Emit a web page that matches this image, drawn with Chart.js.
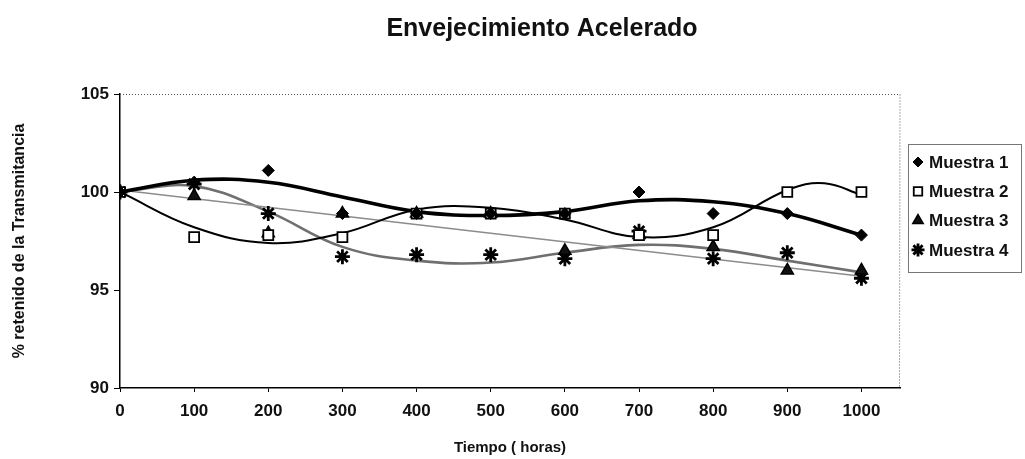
<!DOCTYPE html>
<html><head><meta charset="utf-8">
<script src="https://cdn.jsdelivr.net/npm/chart.js@4"></script>
<style>html,body{margin:0;padding:0;background:#fff}#wrap{position:relative;width:1025px;height:459px}</style>
</head><body><div id="wrap"><canvas id="c" width="1025" height="459"></canvas></div>
<script>
// ---- data ----
const chartTitle = 'Envejecimiento Acelerado';
const xTitle = 'Tiempo ( horas)';
const yTitle = '% retenido de la Transmitancia';
const seriesNames = ['Muestra 1', 'Muestra 2', 'Muestra 3', 'Muestra 4'];
const hours = [0, 100, 200, 300, 400, 500, 600, 700, 800, 900, 1000];
const muestra1 = [100, 100.5, 101.1, 98.9, 98.9, 98.9, 98.9, 100.0, 98.9, 98.9, 97.8];
const muestra2 = [100, 97.7, 97.8, 97.7, 98.9, 98.9, 98.9, 97.8, 97.8, 100.0, 100.0];
const muestra3 = [100, 99.8, 97.9, 98.9, 98.9, 98.9, 97.0, 97.8, 97.2, 96.0, 96.0];
const muestra4 = [100, 100.4, 98.9, 96.7, 96.8, 96.8, 96.6, 98.0, 96.6, 96.9, 95.6];
// trend lines
const trend1Hours = [0, 100, 200, 300, 400, 500, 600, 700, 800, 900, 1000];
const trend1 = [100, 100.6, 100.5, 99.75, 99.0, 98.8, 99.0, 99.55, 99.5, 98.9, 97.8];
const trend2Hours = [0, 100, 200, 300, 400, 500, 600, 700, 800, 900, 950, 1000];
const trend2 = [100, 98.2, 97.4, 97.9, 99.1, 99.2, 98.6, 97.7, 98.2, 100.1, 100.45, 99.85];
const trend3Hours = [0, 1000];
const trend3 = [100.1, 95.7];
const trend4Hours = [0, 100, 200, 300, 400, 500, 600, 700, 800, 900, 1000];
const trend4 = [100, 100.3, 99.0, 97.2, 96.5, 96.4, 96.9, 97.3, 97.1, 96.5, 95.9];
const yTickValues = [90, 95, 100, 105];
const xTickValues = [0, 100, 200, 300, 400, 500, 600, 700, 800, 900, 1000];

const pts = (xs, ys) => xs.map((x, i) => ({x, y: ys[i]}));
const FONT = '"Liberation Sans", Arial, sans-serif';

const markerStyles = [
  {pointStyle: 'rectRot', radius: 6, bg: '#000', border: '#000', bw: 1},
  {pointStyle: 'rect', radius: 7, bg: '#fff', border: '#000', bw: 1.8},
  {pointStyle: 'triangle', radius: 7, bg: '#111', border: '#000', bw: 1.5},
  {pointStyle: 'star', radius: 7.5, bg: '#000', border: '#000', bw: 2.8}
];
const seriesData = [muestra1, muestra2, muestra3, muestra4];

const trendSets = [
  {data: pts(trend1Hours, trend1), color: '#000', width: 3.6},
  {data: pts(trend2Hours, trend2), color: '#000', width: 2},
  {data: pts(trend3Hours, trend3), color: '#8c8c8c', width: 1.5},
  {data: pts(trend4Hours, trend4), color: '#6f6f6f', width: 2.6}
].map((t, i) => ({
  label: seriesNames[i] + ' trend', data: t.data, showLine: true, borderColor: t.color,
  borderWidth: t.width, pointRadius: 0, tension: 0.4, fill: false, order: 2
}));

const markerSets = seriesData.map((d, i) => ({
  label: seriesNames[i], data: pts(hours, d), showLine: false,
  pointStyle: markerStyles[i].pointStyle, pointRadius: markerStyles[i].radius,
  pointBackgroundColor: markerStyles[i].bg, pointBorderColor: markerStyles[i].border,
  pointBorderWidth: markerStyles[i].bw, order: 1
}));

const decor = {
  id: 'decor',
  afterDatasetsDraw(chart) {
    const {ctx, chartArea: a} = chart;
    ctx.save();
    ctx.strokeStyle = '#555'; ctx.lineWidth = 1; ctx.setLineDash([1, 2]);
    ctx.beginPath(); ctx.moveTo(a.left, a.top + 0.5); ctx.lineTo(a.right, a.top + 0.5);
    ctx.lineTo(a.right - 0.5, a.bottom); ctx.stroke();
    ctx.restore();
  },
  afterDraw(chart) {
    const ctx = chart.ctx;
    ctx.save();
    // title
    ctx.fillStyle = '#111'; ctx.font = 'bold 25px ' + FONT;
    ctx.textAlign = 'center'; ctx.textBaseline = 'middle';
    ctx.fillText(chartTitle, 542, 29);
    // legend
    const bx = 908, by = 144, bw = 113, bh = 128;
    ctx.strokeStyle = '#777'; ctx.lineWidth = 1;
    ctx.strokeRect(bx + 0.5, by + 0.5, bw, bh);
    ctx.font = 'bold 17px ' + FONT; ctx.textAlign = 'left';
    seriesNames.forEach((n, i) => {
      const y = 162 + i * 29.3;
      const m = markerStyles[i];
      ctx.fillStyle = m.bg; ctx.strokeStyle = m.border; ctx.lineWidth = m.bw;
      Chart.helpers.drawPoint(ctx, {pointStyle: m.pointStyle, radius: m.radius - 1, rotation: 0, borderWidth: m.bw}, 918, y);
      ctx.fillStyle = '#111';
      ctx.fillText(n, 929, y + 1);
    });
    ctx.restore();
  }
};

new Chart(document.getElementById('c'), {
  type: 'scatter',
  data: {datasets: [...markerSets, ...trendSets]},
  options: {
    responsive: false, animation: false, devicePixelRatio: 1,
    layout: {padding: {top: 94, right: 125, left: 0, bottom: 0}},
    plugins: {legend: {display: false}, title: {display: false}, tooltip: {enabled: false}},
    scales: {
      x: {
        type: 'linear', position: 'bottom', min: 0, max: 1052,
        afterBuildTicks: s => { s.ticks = xTickValues.map(v => ({value: v})); },
        afterFit: s => { s.height = 71; },
        ticks: {color: '#111', font: {family: FONT, size: 17, weight: 'bold'}, padding: 9, maxRotation: 0, autoSkip: false,
                callback: v => String(v)},
        grid: {drawOnChartArea: false, drawTicks: true, tickLength: 4, color: '#000'},
        border: {color: '#000', width: 1.5},
        title: {display: true, text: xTitle, color: '#111', font: {family: FONT, size: 15, weight: 'bold'}, padding: {top: 2, bottom: 2}}
      },
      y: {
        min: 90, max: 105,
        afterBuildTicks: s => { s.ticks = yTickValues.map(v => ({value: v})); },
        afterFit: s => { s.width = 120; },
        ticks: {color: '#111', font: {family: FONT, size: 17, weight: 'bold'}, padding: 5, callback: v => String(v)},
        grid: {drawOnChartArea: false, drawTicks: true, tickLength: 6, color: '#000'},
        border: {color: '#000', width: 1.5},
        title: {display: true, text: yTitle, color: '#111', font: {family: FONT, size: 16, weight: 'bold'}, padding: {top: 10, bottom: 4}}
      }
    }
  },
  plugins: [decor]
});
</script></body></html>
